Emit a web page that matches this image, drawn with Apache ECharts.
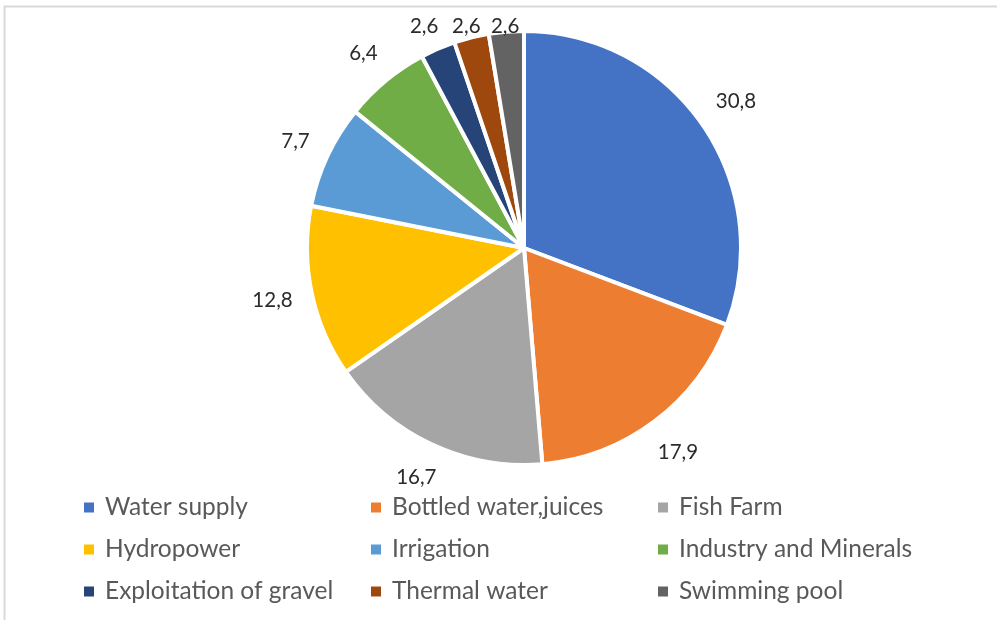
<!DOCTYPE html>
<html>
<head>
<meta charset="utf-8">
<script src="https://cdn.jsdelivr.net/npm/echarts@6/dist/echarts.min.js"></script>
<style>
html,body{margin:0;padding:0;background:#fff;}
#c{width:997px;height:620px;}
</style>
</head>
<body>
<div id="c"></div>
<script>
const categories = ["Water supply","Bottled water,juices","Fish Farm","Hydropower","Irrigation","Industry and Minerals","Exploitation of gravel","Thermal water","Swimming pool"];
const values = [30.8, 17.9, 16.7, 12.8, 7.7, 6.4, 2.6, 2.6, 2.6];
const colors = ["#4472C4","#ED7D31","#A5A5A5","#FFC000","#5B9BD5","#70AD47","#264478","#9E480E","#636363"];
const legendCol1 = ["Water supply","Hydropower","Exploitation of gravel"];
const legendCol2 = ["Bottled water,juices","Irrigation","Thermal water"];
const legendCol3 = ["Fish Farm","Industry and Minerals","Swimming pool"];

const CX = 524, CY = 248, R = 217;
const chart = echarts.init(document.getElementById('c'), null, {renderer:'canvas'});

function mkLegend(data, left){
  return {
    data: data, orient:'vertical', left: left, top: 495,
    icon:'rect', itemWidth:12, itemHeight:12, itemGap:17,
    padding:0,
    textStyle:{fontFamily:'Lato', fontSize:24.5, color:'#595959', lineHeight:24, padding:[0,0,0,5]}
  };
}

chart.setOption({
  animation:false,
  color: colors,
  graphic:[{type:'rect', shape:{x:4.5, y:6.5, width:1010, height:640}, style:{fill:'none', stroke:'#d9d9d9', lineWidth:2}}],
  legend:[mkLegend(legendCol1, 82), mkLegend(legendCol2, 369), mkLegend(legendCol3, 656)],
  series:[{
    type:'pie',
    center:[CX, CY],
    radius:[0, R],
    startAngle:90,
    clockwise:true,
    avoidLabelOverlap:false,
    itemStyle:{borderColor:'#fff', borderWidth:4},
    label:{show:true, position:'outside', fontFamily:'Lato', fontSize:20.5, color:'#2b2b2b',
      formatter: p => p.value.toFixed(1).replace('.', ',')},
    labelLine:{show:true, length:10, length2:0, lineStyle:{width:0, opacity:0}},
    emphasis:{disabled:true},
    labelLayout: function(p){
      const pts = p.labelLinePoints;
      if(!pts) return {};
      const p0 = pts[0];
      let ux = p0[0]-CX, uy = p0[1]-CY;
      const L = Math.sqrt(ux*ux+uy*uy) || 1;
      ux/=L; uy/=L;
      const w = p.labelRect.width, h = p.labelRect.height;
      const he = Math.abs(ux)*w/2 + Math.abs(uy)*h/2;
      const d = R + 18 + he;
      let x = CX + ux*d, y = CY + uy*d;
      if (y < 26) { const t = (CY-26)/(-uy); x = CX + ux*t*1.04; y = 26; }
      return {x:x, y:y, align:'center', verticalAlign:'middle'};
    },
    data: categories.map((n,i)=>({name:n, value:values[i]}))
  }]
});
</script>
</body>
</html>
